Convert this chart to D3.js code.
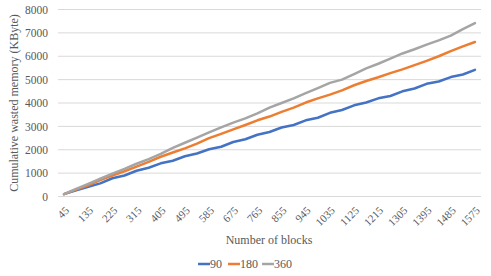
<!DOCTYPE html>
<html>
<head>
<meta charset="utf-8">
<script src="https://cdn.jsdelivr.net/npm/d3@7"></script>
<style>
	body { margin: 0; background: #fff; }
	svg text { font-family: 'Liberation Serif', 'Times New Roman', serif; }
</style>
</head>
<body>
<div id="chart"></div>
<script>
// Number of blocks (every 45), labels shown every other one
const blocks = d3.range(1, 36).map((i) => i * 45);

const series90 = [100, 260, 420, 560, 780, 900, 1100, 1230, 1420, 1530, 1720, 1840, 2020, 2130, 2330, 2450, 2640, 2760, 2950, 3060, 3260, 3370, 3580, 3700, 3900, 4020, 4200, 4300, 4500, 4620, 4820, 4920, 5110, 5220, 5420];
const series180 = [100, 300, 480, 700, 900, 1080, 1280, 1480, 1700, 1880, 2060, 2260, 2500, 2680, 2870, 3060, 3260, 3420, 3620, 3800, 4020, 4200, 4360, 4540, 4760, 4940, 5100, 5280, 5440, 5620, 5800, 6000, 6220, 6420, 6610];
const series360 = [100, 330, 540, 760, 980, 1180, 1400, 1600, 1820, 2080, 2300, 2520, 2740, 2960, 3160, 3340, 3560, 3800, 4000, 4200, 4420, 4640, 4860, 5000, 5240, 5480, 5680, 5900, 6120, 6300, 6500, 6680, 6880, 7160, 7420];

const seriesNames = ['90', '180', '360'];
const seriesColors = ['#4472C4', '#ED7D31', '#A5A5A5'];
const yTicks = [0, 1000, 2000, 3000, 4000, 5000, 6000, 7000, 8000];

const width = 491;
const height = 276;
const margin = { left: 58, right: 10, top: 9.5, bottom: 79.5 };
const fontFamily = "'Liberation Serif', 'Times New Roman', serif";

const svg = d3.select('#chart').append('svg').attr('width', width).attr('height', height);

const x = d3
	.scaleBand()
	.domain(blocks)
	.range([margin.left, width - margin.right]);

const y = d3
	.scaleLinear()
	.domain([0, 8000])
	.range([height - margin.bottom, margin.top]);

// Gridlines
svg.append('g')
	.selectAll('line')
	.data(yTicks)
	.enter()
	.append('line')
	.attr('x1', margin.left)
	.attr('x2', width - margin.right)
	.attr('y1', (d) => y(d))
	.attr('y2', (d) => y(d))
	.attr('stroke', '#d9d9d9')
	.attr('stroke-width', 1);

// Y axis labels
const yAxis = svg
	.append('g')
	.attr('transform', `translate(${margin.left},0)`)
	.call(d3.axisLeft(y).tickValues(yTicks).tickFormat(d3.format('d')).tickSize(0).tickPadding(10))
	.attr('font-family', fontFamily)
	.attr('font-size', 11.5);
yAxis.select('.domain').remove();
yAxis.selectAll('text').attr('fill', '#595959');

// X axis labels
const xAxis = svg
	.append('g')
	.attr('transform', `translate(0,${height - margin.bottom})`)
	.call(
		d3
			.axisBottom(x)
			.tickValues(blocks.filter((d, i) => i % 2 === 0))
			.tickSize(0)
	)
	.attr('font-family', fontFamily)
	.attr('font-size', 11);
xAxis.select('.domain').remove();
xAxis
	.selectAll('text')
	.attr('fill', '#595959')
	.attr('text-anchor', 'end')
	.attr('y', 0)
	.attr('dy', '0.35em')
	.attr('transform', 'translate(3,12) rotate(-45)');

// Lines
const allSeries = [series90, series180, series360];
const line = d3
	.line()
	.x((d, i) => x(blocks[i]) + x.bandwidth() / 2)
	.y((d) => y(d));

svg.append('g')
	.selectAll('path')
	.data(allSeries)
	.enter()
	.append('path')
	.attr('d', (d) => line(d))
	.attr('fill', 'none')
	.attr('stroke', (d, i) => seriesColors[i])
	.attr('stroke-width', 2.5)
	.attr('stroke-linejoin', 'round')
	.attr('stroke-linecap', 'round');

// Axis titles
svg.append('text')
	.attr('x', 269)
	.attr('y', 244)
	.attr('text-anchor', 'middle')
	.attr('fill', '#595959')
	.style('font-size', '12px')
	.text('Number of blocks');

svg.append('text')
	.attr('transform', `translate(18,${(y(0) + y(8000)) / 2}) rotate(-90)`)
	.attr('text-anchor', 'middle')
	.attr('fill', '#595959')
	.style('font-size', '12px')
	.text('Cumulative wasted memory (KByte)');

// Legend
const legend = svg.append('g').attr('transform', 'translate(198,264)');
const legendX = [0, 30, 64];
seriesNames.forEach((name, i) => {
	const g = legend.append('g').attr('transform', `translate(${legendX[i]},0)`);
	g.append('line').attr('x1', 0).attr('x2', 12).attr('y1', 0).attr('y2', 0).attr('stroke', seriesColors[i]).attr('stroke-width', 2.5);
	g.append('text').attr('x', 12).attr('y', 4).attr('fill', '#595959').style('font-size', '12px').text(name);
});
</script>
</body>
</html>
